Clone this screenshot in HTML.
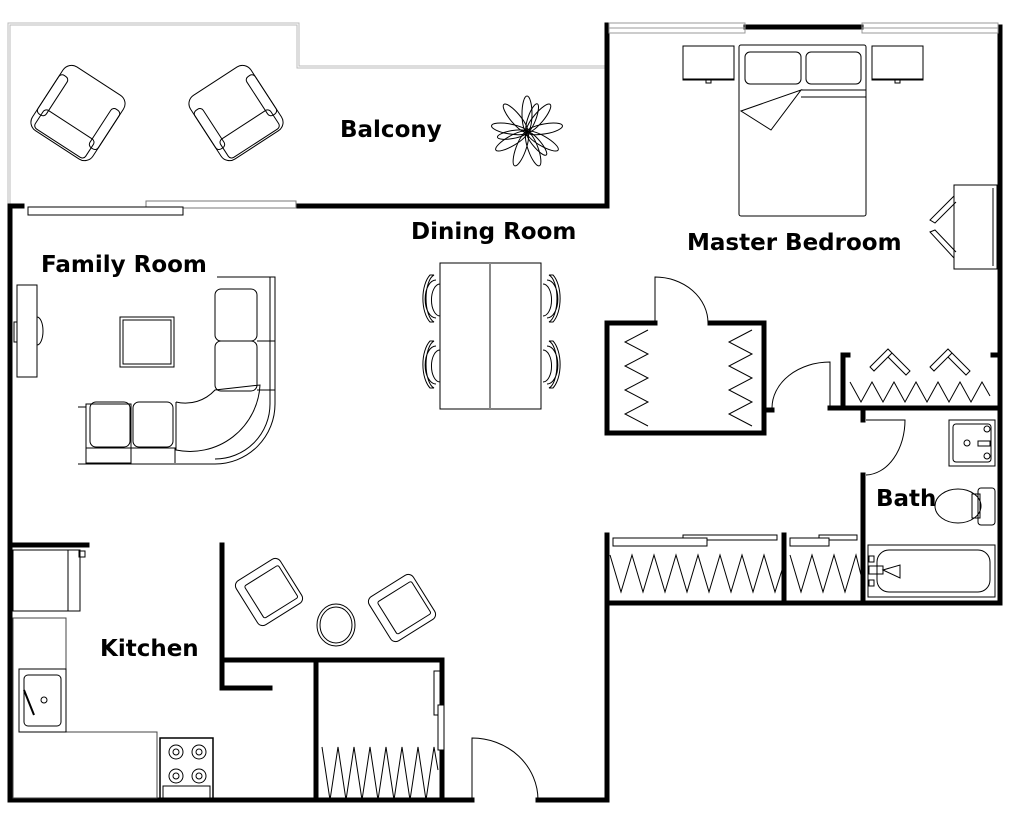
<!DOCTYPE html>
<html><head><meta charset="utf-8"><style>
html,body{margin:0;padding:0;background:#fff}
svg{display:block}
text{font-family:"DejaVu Sans","Liberation Sans",sans-serif;font-weight:bold;font-size:23px;fill:#000}
</style></head><body>
<svg width="1024" height="824" viewBox="0 0 1024 824" xmlns="http://www.w3.org/2000/svg">
<g fill="none" stroke="#000">
<!-- balcony railing -->
<path d="M9,205 V24 H298 V67 H607" stroke="#bbb" stroke-width="3"/>
<path d="M9,205 V24 H298 V67 H607" stroke="#fff" stroke-width="1"/>

<g stroke-width="5" stroke-linecap="square">
<path d="M10,800 V206 H22"/>
<path d="M296,206 H607 V25"/>
<path d="M746,27 H861"/>
<path d="M1000,27 V603 H607 V535"/>
<path d="M10,800 H472"/>
<path d="M538,800 H607 V535"/>
<path d="M607,323 V433 H764 V323 H710"/>
<path d="M607,323 H655"/>
<path d="M764,410 H772"/>
<path d="M830,408 H1000"/>
<path d="M843,408 V355 H848"/>
<path d="M1000,355 H993"/>
<path d="M863,408 V420"/>
<path d="M863,475 V603"/>
<path d="M784,535 V603"/>
<path d="M10,545 H87"/>
<path d="M222,545 V688 H270"/>
<path d="M222,660 H442 V800"/>
<path d="M316,660 V800"/>
</g>

<rect x="609" y="23" width="136" height="10" stroke="#999" stroke-width="1"/>
<line x1="609" y1="28" x2="745" y2="28" stroke="#999"/>
<rect x="862" y="23" width="136" height="10" stroke="#999" stroke-width="1"/>
<line x1="862" y1="28" x2="998" y2="28" stroke="#999"/>
<rect x="146" y="201" width="150" height="7" fill="#fff" stroke="#777" stroke-width="1"/>
<rect x="28" y="207" width="155" height="8" fill="#fff" stroke-width="1"/>

<g stroke-width="1">
<path d="M655,323 V277 A53,46 0 0 1 708,323"/>
<path d="M830,408 V362 A58,46 0 0 0 772,408"/>
<path d="M866,420 H905 A40,55 0 0 1 866,475"/>
<path d="M472,800 V738 A66,62 0 0 1 538,800"/>
</g>

<g stroke-width="1">
<polyline points="648,330 625,342 648,354 625,366 648,378 625,390 648,402 625,414 648,426"/>
<polyline points="752,330 729,342 752,354 729,366 752,378 729,390 752,402 729,414 752,426"/>
<polyline points="850,382 861,402 872,382 883,402 894,382 905,402 916,382 927,402 938,382 949,402 960,382 971,402 982,382 990,396"/>
<polyline points="610,555 621,592 632,555 643,592 654,555 665,592 676,555 687,592 698,555 709,592 720,555 731,592 742,555 753,592 764,555 775,592 782,570"/>
<polyline points="790,555 801,592 812,555 823,592 834,555 845,592 856,555 861,575"/>
<polyline points="322,747 330,800 338,747 346,800 354,747 362,800 370,747 378,800 386,747 394,800 402,747 410,800 418,747 426,800 434,747 438,770"/>
<path d="M870,367 L888,349 L892,353 L874,371Z M892,353 L910,371 L906,375 L888,357"/>
<path d="M930,367 L948,349 L952,353 L934,371Z M952,353 L970,371 L966,375 L948,357"/>
<rect x="683" y="535" width="94" height="5" fill="#fff"/>
<rect x="613" y="538" width="94" height="8" fill="#fff"/>
<rect x="819" y="535" width="38" height="5" fill="#fff"/>
<rect x="790" y="538" width="39" height="8" fill="#fff"/>
<rect x="434" y="671" width="6" height="44" fill="#fff"/>
<rect x="438" y="705" width="6" height="45" fill="#fff"/>
</g>

<g stroke-width="1">
<rect x="739" y="45" width="127" height="171" rx="2"/>
<rect x="745" y="52" width="56" height="32" rx="5"/>
<rect x="806" y="52" width="55" height="32" rx="5"/>
<path d="M801,90 H866 M801,97 H866 M741,111 L801,90 L771,130 Z"/>
<rect x="683" y="46" width="51" height="34"/><path d="M683,79 H734"/><rect x="706" y="80" width="5" height="3"/>
<rect x="872" y="46" width="51" height="34"/><path d="M872,79 H923"/><rect x="895" y="80" width="5" height="3"/>
<rect x="954" y="185" width="43" height="84"/><path d="M993,188 V266"/>
<path d="M954,196 L930,220 L935,223 L956,202 M954,258 L930,232 L935,230 L956,252"/>
<rect x="949" y="420" width="46" height="46"/><rect x="953" y="424" width="38" height="38" rx="3"/>
<circle cx="967" cy="443" r="3"/><circle cx="987" cy="429" r="3"/><circle cx="987" cy="456" r="3"/><rect x="978" y="441" width="12" height="5"/>
<ellipse cx="958" cy="506" rx="23" ry="17"/><rect x="972" y="494" width="8" height="24"/><rect x="978" y="488" width="17" height="37" rx="3"/>
<rect x="868" y="545" width="127" height="52"/><rect x="877" y="550" width="113" height="42" rx="12"/>
<rect x="869" y="556" width="5" height="6"/><rect x="869" y="580" width="5" height="6"/><rect x="869" y="566" width="14" height="8"/>
<path d="M883,570 L900,565 V578 Z"/>
</g>

<g stroke-width="1">
<g transform="translate(78,113) rotate(33)"><rect x="-36" y="-38" width="72" height="76" rx="10"/><rect x="-30" y="14" width="60" height="22" rx="4"/><rect x="-36" y="-24" width="10" height="46" rx="4"/><rect x="26" y="-24" width="10" height="46" rx="4"/></g>
<g transform="translate(236,113) rotate(-33)"><rect x="-36" y="-38" width="72" height="76" rx="10"/><rect x="-30" y="14" width="60" height="22" rx="4"/><rect x="-36" y="-24" width="10" height="46" rx="4"/><rect x="26" y="-24" width="10" height="46" rx="4"/></g>
<g transform="translate(527,132)">
<ellipse cx="0" cy="-18" rx="5" ry="18"/>
<ellipse cx="0" cy="-18" rx="5" ry="18" transform="rotate(40)"/>
<ellipse cx="0" cy="-18" rx="5" ry="18" transform="rotate(80)"/>
<ellipse cx="0" cy="-18" rx="5" ry="18" transform="rotate(120)"/>
<ellipse cx="0" cy="-18" rx="5" ry="18" transform="rotate(160)"/>
<ellipse cx="0" cy="-18" rx="5" ry="18" transform="rotate(200)"/>
<ellipse cx="0" cy="-18" rx="5" ry="18" transform="rotate(240)"/>
<ellipse cx="0" cy="-18" rx="5" ry="18" transform="rotate(280)"/>
<ellipse cx="0" cy="-18" rx="5" ry="18" transform="rotate(320)"/>
<ellipse cx="0" cy="-15" rx="4" ry="15" transform="rotate(20)"/>
<ellipse cx="0" cy="-15" rx="4" ry="15" transform="rotate(140)"/>
<ellipse cx="0" cy="-15" rx="4" ry="15" transform="rotate(260)"/>
</g>
</g>

<g stroke-width="1">
<rect x="17" y="285" width="20" height="92"/><path d="M37,317 A6,14 0 0 1 37,345 M17,322 H14 V342 H17"/>
<rect x="120" y="317" width="54" height="50"/><rect x="123" y="320" width="48" height="44"/>
<path d="M86,404 H131 V463 H86 Z M78,407 H86 V464 H78"/>
<path d="M217,277 H275 V404 A60,60 0 0 1 215,464 H78"/>
<path d="M270,277 V404 A55,55 0 0 1 215,459"/>
<rect x="215" y="289" width="42" height="52" rx="6"/>
<rect x="215" y="341" width="42" height="50" rx="6"/>
<path d="M257,341 H275 V390 H257"/>
<rect x="90" y="402" width="40" height="45" rx="6"/>
<rect x="133" y="402" width="40" height="45" rx="6"/>
<path d="M176,402 L176,450 A70,70 0 0 0 260,385 L215,390 A40,40 0 0 1 176,402"/>
<path d="M131,448 V463 M175,448 V463 M86,448 H176"/>
<rect x="440" y="263" width="101" height="146"/><line x1="490" y1="263" x2="490" y2="409" stroke="#888" stroke-width="2"/>
<g id="ch"><path d="M436,280 A8,14 0 0 0 436,318 M430,275 A14,27 0 0 0 430,322 L434,322 A10,24 0 0 1 434,275 Z M440,284 A8,15 0 0 0 440,316"/></g>
<use href="#ch" transform="translate(0,66)"/>
<use href="#ch" transform="translate(983,0) scale(-1,1)"/>
<use href="#ch" transform="translate(983,66) scale(-1,1)"/>
</g>

<g stroke-width="1">
<rect x="13" y="550" width="67" height="61"/><path d="M68,550 V611"/><rect x="79" y="551" width="6" height="6"/>
<path d="M13,618 H66 V732 H157 V798 H13 Z" stroke="#444"/>
<rect x="19" y="669" width="47" height="63"/><rect x="24" y="675" width="37" height="51" rx="4"/>
<circle cx="44" cy="700" r="3"/><path d="M24,690 L34,715" stroke-width="2"/>
<rect x="160" y="738" width="53" height="62" stroke-width="1.5"/><rect x="163" y="786" width="47" height="12"/>
<circle cx="176" cy="752" r="7"/><circle cx="199" cy="752" r="7"/><circle cx="176" cy="776" r="7"/><circle cx="199" cy="776" r="7"/>
<circle cx="176" cy="752" r="3"/><circle cx="199" cy="752" r="3"/><circle cx="176" cy="776" r="3"/><circle cx="199" cy="776" r="3"/>
<g transform="translate(269,592) rotate(-32)"><rect x="-26" y="-26" width="52" height="52" rx="6"/><rect x="-18" y="-18" width="40" height="38" rx="2"/></g>
<g transform="translate(402,608) rotate(-32)"><rect x="-26" y="-26" width="52" height="52" rx="6"/><rect x="-18" y="-18" width="40" height="38" rx="2"/></g>
<ellipse cx="336" cy="625" rx="19" ry="21"/><ellipse cx="336" cy="625" rx="16" ry="18"/>
</g>
</g>

<text x="340" y="137">Balcony</text>
<text x="411" y="239">Dining Room</text>
<text x="41" y="272">Family Room</text>
<text x="687" y="250">Master Bedroom</text>
<text x="876" y="506">Bath</text>
<text x="100" y="656">Kitchen</text>
</svg>
</body></html>
